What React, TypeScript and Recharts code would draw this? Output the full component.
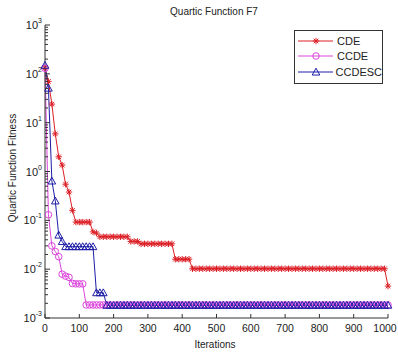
import { LineChart, Line, XAxis, YAxis, Legend } from 'recharts'

// iterations sampled every 10 (markers drawn at each sample)
const iterations = [
  0, 10, 20, 30, 40, 50, 60, 70, 80, 90,
  100, 110, 120, 130, 140, 150, 160, 170, 180, 190,
  200, 210, 220, 230, 240, 250, 260, 270, 280, 290,
  300, 310, 320, 330, 340, 350, 360, 370, 380, 390,
  400, 410, 420, 430, 440, 450, 460, 470, 480, 490,
  500, 510, 520, 530, 540, 550, 560, 570, 580, 590,
  600, 610, 620, 630, 640, 650, 660, 670, 680, 690,
  700, 710, 720, 730, 740, 750, 760, 770, 780, 790,
  800, 810, 820, 830, 840, 850, 860, 870, 880, 890,
  900, 910, 920, 930, 940, 950, 960, 970, 980, 990,
  1000,
]

const cdeFitness = [
  130, 70, 24, 5.9, 2.0, 1.35, 0.55, 0.38, 0.16, 0.092,
  0.092, 0.092, 0.092, 0.092, 0.058, 0.055, 0.046, 0.046, 0.046, 0.046,
  0.046, 0.046, 0.046, 0.046, 0.046, 0.037, 0.037, 0.037, 0.033, 0.033,
  0.033, 0.033, 0.033, 0.033, 0.033, 0.033, 0.033, 0.033, 0.016, 0.016,
  0.016, 0.016, 0.016, 0.0102, 0.0102, 0.0102, 0.0102, 0.0102, 0.0102, 0.0102,
  0.0102, 0.0102, 0.0102, 0.0102, 0.0102, 0.0102, 0.0102, 0.0102, 0.0102, 0.0102,
  0.0102, 0.0102, 0.0102, 0.0102, 0.0102, 0.0102, 0.0102, 0.0102, 0.0102, 0.0102,
  0.0102, 0.0102, 0.0102, 0.0102, 0.0102, 0.0102, 0.0102, 0.0102, 0.0102, 0.0102,
  0.0102, 0.0102, 0.0102, 0.0102, 0.0102, 0.0102, 0.0102, 0.0102, 0.0102, 0.0102,
  0.0102, 0.0102, 0.0102, 0.0102, 0.0102, 0.0102, 0.0102, 0.0102, 0.0102, 0.0102,
  0.0045,
]

const ccdeFitness = [
  130, 0.13, 0.03, 0.023, 0.018, 0.0079, 0.0072, 0.0068, 0.0051, 0.005,
  0.005, 0.005, 0.00185, 0.00185, 0.00185, 0.00185, 0.00185, 0.00185, 0.00185, 0.00185,
  0.00185, 0.00185, 0.00185, 0.00185, 0.00185, 0.00185, 0.00185, 0.00185, 0.00185, 0.00185,
  0.00185, 0.00185, 0.00185, 0.00185, 0.00185, 0.00185, 0.00185, 0.00185, 0.00185, 0.00185,
  0.00185, 0.00185, 0.00185, 0.00185, 0.00185, 0.00185, 0.00185, 0.00185, 0.00185, 0.00185,
  0.00185, 0.00185, 0.00185, 0.00185, 0.00185, 0.00185, 0.00185, 0.00185, 0.00185, 0.00185,
  0.00185, 0.00185, 0.00185, 0.00185, 0.00185, 0.00185, 0.00185, 0.00185, 0.00185, 0.00185,
  0.00185, 0.00185, 0.00185, 0.00185, 0.00185, 0.00185, 0.00185, 0.00185, 0.00185, 0.00185,
  0.00185, 0.00185, 0.00185, 0.00185, 0.00185, 0.00185, 0.00185, 0.00185, 0.00185, 0.00185,
  0.00185, 0.00185, 0.00185, 0.00185, 0.00185, 0.00185, 0.00185, 0.00185, 0.00185, 0.00185,
  0.00185,
]

const ccdescFitness = [
  150, 51, 0.64, 0.25, 0.05, 0.037, 0.029, 0.029, 0.029, 0.029,
  0.029, 0.029, 0.029, 0.029, 0.029, 0.0033, 0.0033, 0.0033, 0.00183, 0.00183,
  0.00183, 0.00183, 0.00183, 0.00183, 0.00183, 0.00183, 0.00183, 0.00183, 0.00183, 0.00183,
  0.00183, 0.00183, 0.00183, 0.00183, 0.00183, 0.00183, 0.00183, 0.00183, 0.00183, 0.00183,
  0.00183, 0.00183, 0.00183, 0.00183, 0.00183, 0.00183, 0.00183, 0.00183, 0.00183, 0.00183,
  0.00183, 0.00183, 0.00183, 0.00183, 0.00183, 0.00183, 0.00183, 0.00183, 0.00183, 0.00183,
  0.00183, 0.00183, 0.00183, 0.00183, 0.00183, 0.00183, 0.00183, 0.00183, 0.00183, 0.00183,
  0.00183, 0.00183, 0.00183, 0.00183, 0.00183, 0.00183, 0.00183, 0.00183, 0.00183, 0.00183,
  0.00183, 0.00183, 0.00183, 0.00183, 0.00183, 0.00183, 0.00183, 0.00183, 0.00183, 0.00183,
  0.00183, 0.00183, 0.00183, 0.00183, 0.00183, 0.00183, 0.00183, 0.00183, 0.00183, 0.00183,
  0.00183,
]

const xTicks = [0, 100, 200, 300, 400, 500, 600, 700, 800, 900, 1000]
const yExponents = [-3, -2, -1, 0, 1, 2, 3]
const seriesNames = ['CDE', 'CCDE', 'CCDESC']

const RED = '#dc1f26'
const MAGENTA = '#dc44dc'
const NAVY = '#1e1ea6'
const AXIS = '#333'
const FONT = '"Liberation Sans", Arial, sans-serif'

// log ticks: majors at 10^k, minors at m*10^k
const yTicks: number[] = []
yExponents.forEach((e, i) => {
  yTicks.push(Math.pow(10, e))
  if (i < yExponents.length - 1) {
    for (let m = 2; m <= 9; m++) yTicks.push(m * Math.pow(10, e))
  }
})

const data = iterations.map((it, i) => ({
  it,
  cde: cdeFitness[i],
  ccde: ccdeFitness[i],
  ccdesc: ccdescFitness[i],
}))

function isMajor(v: number) {
  const l = Math.log10(v)
  return Math.abs(l - Math.round(l)) < 1e-6
}

function LeftTick(props: any) {
  const { x, y, payload } = props
  const major = isMajor(payload.value)
  return (
    <g>
      <line x1={x} x2={x + (major ? 5 : 3)} y1={y} y2={y} stroke={AXIS} />
      {major && (
        <text x={x - 3} y={y + 4} textAnchor="end" fontSize={11} fill="#222" fontFamily={FONT}>
          10
          <tspan dy={-6} fontSize={7}>{Math.round(Math.log10(payload.value))}</tspan>
        </text>
      )}
    </g>
  )
}

function RightTick(props: any) {
  const { x, y, payload } = props
  const major = isMajor(payload.value)
  return <line x1={x} x2={x - (major ? 5 : 3)} y1={y} y2={y} stroke={AXIS} />
}

function BottomTick(props: any) {
  const { x, y, payload } = props
  // keep the last label inside the window
  const tx = Math.min(x, 385)
  return (
    <g>
      <line x1={x} x2={x} y1={y} y2={y - 4} stroke={AXIS} />
      <text x={tx} y={y + 14} textAnchor="middle" fontSize={10.5} fill="#222" fontFamily={FONT}>
        {payload.value}
      </text>
    </g>
  )
}

function TopTick(props: any) {
  const { x, y } = props
  return <line x1={x} x2={x} y1={y} y2={y + 4} stroke={AXIS} />
}

function Star({ cx, cy, color }: { cx: number; cy: number; color: string }) {
  const r = 3.2
  const d = r * 0.72
  return (
    <g stroke={color} strokeWidth={1}>
      <line x1={cx - r} x2={cx + r} y1={cy} y2={cy} />
      <line x1={cx} x2={cx} y1={cy - r} y2={cy + r} />
      <line x1={cx - d} x2={cx + d} y1={cy - d} y2={cy + d} />
      <line x1={cx - d} x2={cx + d} y1={cy + d} y2={cy - d} />
    </g>
  )
}

function Circle({ cx, cy, color }: { cx: number; cy: number; color: string }) {
  return <circle cx={cx} cy={cy} r={3.3} fill="none" stroke={color} strokeWidth={1} />
}

function Triangle({ cx, cy, color }: { cx: number; cy: number; color: string }) {
  const s = 3.8
  return (
    <polygon
      points={`${cx},${cy - s} ${cx - s},${cy + s * 0.8} ${cx + s},${cy + s * 0.8}`}
      fill="none"
      stroke={color}
      strokeWidth={1}
    />
  )
}

const markers = [
  { name: seriesNames[0], key: 'cde', color: RED, Mark: Star },
  { name: seriesNames[1], key: 'ccde', color: MAGENTA, Mark: Circle },
  { name: seriesNames[2], key: 'ccdesc', color: NAVY, Mark: Triangle },
]

function LegendBox() {
  return (
    <div
      style={{
        width: 87,
        height: 50,
        border: `1px solid ${AXIS}`,
        background: '#fff',
        boxSizing: 'content-box',
        fontFamily: FONT,
        fontSize: 11,
        color: '#222',
        paddingTop: 2,
      }}
    >
      {markers.map(({ name, color, Mark }) => (
        <div key={name} style={{ display: 'flex', alignItems: 'center', height: 15.5 }}>
          <svg width={40} height={12} style={{ marginLeft: 2 }}>
            <line x1={1} x2={36} y1={6} y2={6} stroke={color} />
            <Mark cx={19} cy={6} color={color} />
          </svg>
          <span>{name}</span>
        </div>
      ))}
    </div>
  )
}

export default function App() {
  return (
    <div style={{ position: 'absolute', left: 0, top: 0, width: 398, height: 354, background: '#fff' }}>
      <div
        style={{
          position: 'absolute', left: 0, width: 428, top: 6, textAlign: 'center',
          fontFamily: FONT, fontSize: 10, color: '#222', lineHeight: '12px',
        }}
      >
        Quartic Function F7
      </div>
      <LineChart width={398} height={354} data={data} margin={{ top: 25, right: 10, bottom: 0, left: 0 }}>
        <XAxis
          xAxisId="b" dataKey="it" type="number" domain={[0, 1000]} ticks={xTicks} interval={0}
          height={36} tickSize={0} tickMargin={0} tick={<BottomTick />} stroke={AXIS}
        />
        <XAxis
          xAxisId="t" orientation="top" dataKey="it" type="number" domain={[0, 1000]} ticks={xTicks} interval={0}
          height={0} tickSize={0} tickMargin={0} tick={<TopTick />} stroke={AXIS}
        />
        <YAxis
          yAxisId="l" scale="log" type="number" domain={[0.001, 1000]} allowDataOverflow ticks={yTicks} interval={0}
          width={45} tickSize={0} tickMargin={0} tick={<LeftTick />} stroke={AXIS}
        />
        <YAxis
          yAxisId="r" orientation="right" scale="log" type="number" domain={[0.001, 1000]} allowDataOverflow
          ticks={yTicks} interval={0} width={0} tickSize={0} tickMargin={0} tick={<RightTick />} stroke={AXIS}
        />
        <Legend
          layout="vertical"
          align="center"
          verticalAlign="middle"
          content={<LegendBox />}
          wrapperStyle={{ position: 'absolute', left: 294, top: 30, width: 89, height: 54, bottom: 'auto' }}
        />
        {markers.map(({ name, key, color, Mark }) => (
          <Line
            key={key}
            xAxisId="b"
            yAxisId="l"
            dataKey={key}
            name={name}
            type="linear"
            stroke={color}
            strokeWidth={1}
            isAnimationActive={false}
            dot={(p: any) => <Mark key={`${key}-${p.index}`} cx={p.cx} cy={p.cy} color={color} />}
            activeDot={false}
          />
        ))}
      </LineChart>
      <div
        style={{
          position: 'absolute', left: 0, width: 430, top: 339, textAlign: 'center',
          fontFamily: FONT, fontSize: 10, color: '#222', lineHeight: '12px',
        }}
      >
        Iterations
      </div>
      <div
        style={{
          position: 'absolute', left: 13, top: 168, width: 0, height: 0,
        }}
      >
        <div
          style={{
            position: 'absolute', left: -100, top: -6, width: 200, textAlign: 'center',
            transform: 'rotate(-90deg)', fontFamily: FONT, fontSize: 10, color: '#222', lineHeight: '12px',
            whiteSpace: 'nowrap',
          }}
        >
          Quartic Function Fitness
        </div>
      </div>
    </div>
  )
}
